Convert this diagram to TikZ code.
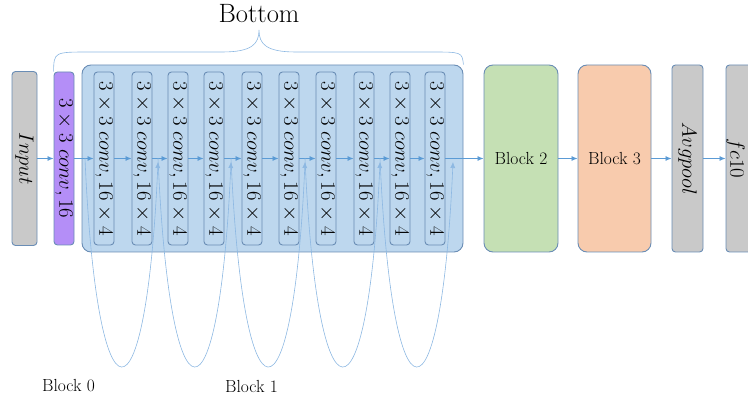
\documentclass[tikz,border=0pt]{standalone}
\usepackage{amsfonts}
\usepackage{tikz}
\usetikzlibrary{arrows.meta}
\definecolor{edgeblue}{HTML}{6A8DB5}
\definecolor{lineblue}{HTML}{5B9BD5}
\definecolor{loopblue}{HTML}{8DB8E2}
\definecolor{bottomfill}{HTML}{BDD7EE}
\definecolor{greyfill}{HTML}{C9C9C9}
\definecolor{convfill}{HTML}{B48EF7}
\definecolor{greenfill}{HTML}{C5E0B4}
\definecolor{orangefill}{HTML}{F8CBAD}

\begin{document}
\begin{tikzpicture}[x=1pt,y=-1pt,
    layer/.style={draw=edgeblue,line width=0.9pt,rounded corners=3.5pt,inner sep=0pt,minimum width=20pt,minimum height=173pt},
    block/.style={draw=edgeblue,line width=0.9pt,rounded corners=9pt,inner sep=0pt,minimum height=187pt,font=\fontsize{17.5}{21}\selectfont},
    upright/.style={rotate=-90,inner sep=0pt,font=\fontsize{20}{24}\selectfont},
    flow/.style={lineblue,line width=0.8pt,-{Latex[length=6pt,width=5pt]}},
    skip/.style={loopblue,line width=0.6pt}]
                            \useasboundingbox (0,0) rectangle (748,398);

                            \node[layer,fill=greyfill,minimum width=25pt,minimum height=174pt,label={[upright]center:$Input$}] (input) at (24.5,158.5) {};
                            \node[layer,fill=convfill,label={[upright]center:$3\times3\ conv, 16$}] (conv) at (64,158.5) {};
                            \node[block,fill=bottomfill,minimum width=381pt] (bottom) at (272.5,158.5) {};
                            \foreach \i/\x in {1/104,2/142,3/178,4/214,5/252,6/289,7/326,8/364,9/400,10/435}
                                \node[layer,fill=bottomfill,label={[upright]center:$3\times3\ conv, 16\times4$}] (res\i) at (\x,158.5) {};
                            \node[block,fill=greenfill,minimum width=74pt] (block2) at (521,158.5) {Block 2};
                            \node[block,fill=orangefill,minimum width=73pt] (block3) at (614.5,158.5) {Block 3};
                            \node[layer,fill=greyfill,minimum width=31pt,minimum height=187pt,label={[upright]center:$Avgpool$}] (avgpool) at (687.5,158.5) {};
                            \node[layer,fill=greyfill,minimum width=31pt,minimum height=187pt,label={[xshift=-6pt,upright]center:$fc10$}] (fc) at (741.5,158.5) {};

                            \draw[flow] (input) -- (conv);
                            \draw[flow] (conv) -- (res1);
                            \foreach \i [evaluate=\i as \j using int(\i+1)] in {1,...,9}
                                \draw[flow] (res\i) -- (res\j);
                            \draw[flow] (res10) -- (block2);
                            \draw[flow] (block2) -- (block3);
                            \draw[flow] (block3) -- (avgpool);
                            \draw[flow] (avgpool) -- (fc);

                            \foreach \i/\a/\b in {1/85/158,2/158/231,3/231/305,4/305/380,5/380/453}{
                                \coordinate (from\i) at (\a,158.5);
                                \coordinate (to\i) at (\b,162);
                                \draw[skip,-{Latex[length=6pt,width=5pt]}] (from\i) .. controls (\a+12,435) and (\b-12,435) .. (to\i);
                            }

                            \coordinate (tip) at (259,30);
                            \draw[skip] (conv.north west) .. controls (54,52) .. (90,52) -- (222,52) .. controls (252,52) and (259,44) .. (tip)
                                .. controls (259,44) and (266,52) .. (296,52) -- (430,52) .. controls (462,52) .. (bottom.north east);
                            \node[font=\fontsize{26.5}{30}\selectfont] (top) at (259,14) {Bottom};

                            \node[font=\fontsize{17.5}{21}\selectfont] (block0) at (68.5,386) {Block 0};
                            \node[font=\fontsize{17.5}{21}\selectfont] (block1) at (251.5,386) {Block 1};
\end{tikzpicture}
\end{document}
